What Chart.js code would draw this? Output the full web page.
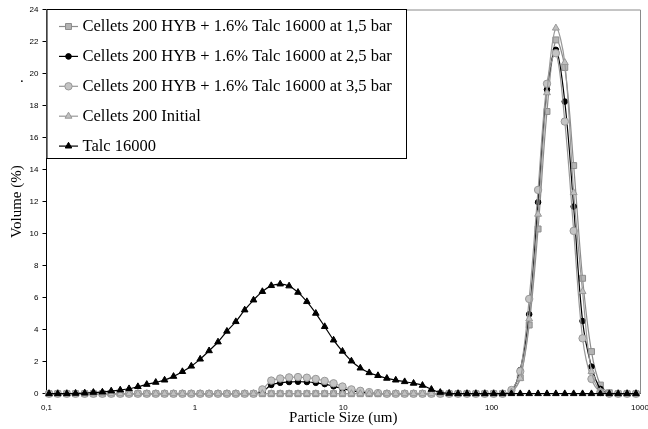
<!DOCTYPE html>
<html>
<head>
<meta charset="utf-8">
<script src="https://cdn.jsdelivr.net/npm/chart.js@4.4.0/dist/chart.umd.min.js"></script>
<style>
  html, body { margin: 0; padding: 0; background: #fff; }
  #wrap { width: 648px; height: 429px; position: relative; }
</style>
</head>
<body>
<div id="wrap"><canvas id="psd"></canvas></div>
<script>
// Particle size classes (um)
const sizes = [0.104, 0.119, 0.137, 0.157, 0.181, 0.207, 0.238, 0.273, 0.314, 0.360,
  0.413, 0.474, 0.545, 0.625, 0.718, 0.824, 0.946, 1.086, 1.247, 1.432,
  1.644, 1.888, 2.167, 2.485, 2.851, 3.273, 3.758, 4.315, 4.954, 5.687,
  6.530, 7.497, 8.607, 9.88, 11.35, 13.03, 14.96, 17.14, 19.68, 22.59,
  25.94, 29.78, 34.19, 39.26, 45.07, 51.74, 59.40, 68.2, 78.3, 89.9,
  103.2, 118.5, 136.0, 156.0, 179.1, 205.6, 236.1, 271.0, 311.2, 357.3,
  410.2, 470.9, 540.8, 620.9, 712.8, 818.4, 939.7];

const xTicks = [0.1, 1, 10, 100, 1000];

// Volume (%) per size class
const hyb15 = [0, 0, 0, 0, 0, 0, 0, 0, 0, 0,
  0, 0, 0, 0, 0, 0, 0, 0, 0, 0,
  0, 0, 0, 0, 0, 0, 0, 0, 0, 0,
  0, 0, 0, 0, 0, 0, 0, 0, 0, 0,
  0, 0, 0, 0, 0, 0, 0, 0, 0, 0,
  0, 0, 0.1, 1.0, 4.29, 10.29, 17.63, 22.1, 20.38, 14.25,
  7.21, 2.63, 0.54, 0.06, 0, 0, 0];

const hyb25 = [0, 0, 0, 0, 0, 0, 0, 0, 0, 0,
  0, 0, 0, 0, 0, 0, 0, 0, 0, 0,
  0, 0, 0, 0, 0.12, 0.55, 0.68, 0.73, 0.75, 0.73,
  0.68, 0.6, 0.46, 0.32, 0.2, 0.1, 0.04, 0, 0, 0,
  0, 0, 0, 0, 0, 0, 0, 0, 0, 0,
  0, 0, 0.15, 1.48, 4.96, 11.96, 19.0, 21.48, 18.25, 11.69,
  4.54, 1.69, 0.3, 0, 0, 0, 0];

const hyb35 = [0, 0, 0, 0, 0, 0, 0, 0, 0, 0,
  0, 0, 0, 0, 0, 0, 0, 0, 0, 0,
  0, 0, 0, 0, 0.27, 0.82, 0.95, 1.02, 1.04, 1.0,
  0.92, 0.8, 0.65, 0.45, 0.27, 0.18, 0.1, 0.04, 0, 0,
  0, 0, 0, 0, 0, 0, 0, 0, 0, 0,
  0, 0, 0.23, 1.4, 5.92, 12.73, 19.36, 21.27, 17.0, 10.17,
  3.46, 0.92, 0.1, 0, 0, 0, 0];

const initial = [0, 0, 0, 0, 0, 0, 0, 0, 0, 0,
  0, 0, 0, 0, 0, 0, 0, 0, 0, 0,
  0, 0, 0, 0, 0, 0, 0, 0, 0, 0,
  0, 0, 0, 0, 0, 0, 0, 0, 0, 0,
  0, 0, 0, 0, 0, 0, 0, 0, 0, 0,
  0, 0, 0.1, 0.96, 4.67, 11.21, 18.8, 22.84, 20.69, 12.56,
  6.38, 1.38, 0.15, 0, 0, 0, 0];

const talc = [0, 0, 0, 0.02, 0.04, 0.08, 0.1, 0.17, 0.23, 0.31,
  0.44, 0.58, 0.71, 0.85, 1.08, 1.38, 1.72, 2.16, 2.68, 3.23,
  3.9, 4.5, 5.23, 5.85, 6.38, 6.75, 6.85, 6.73, 6.33, 5.75,
  5.02, 4.19, 3.35, 2.65, 2.04, 1.6, 1.31, 1.13, 0.96, 0.85,
  0.75, 0.65, 0.52, 0.27, 0.08, 0.02, 0, 0, 0, 0,
  0, 0, 0, 0, 0, 0, 0, 0, 0, 0,
  0, 0, 0, 0, 0, 0, 0];

const seriesNames = [
  'Cellets 200 HYB + 1.6% Talc 16000 at 1,5 bar',
  'Cellets 200 HYB + 1.6% Talc 16000 at 2,5 bar',
  'Cellets 200 HYB + 1.6% Talc 16000 at 3,5 bar',
  'Cellets 200 Initial',
  'Talc 16000'
];

function toPoints(vals) {
  return vals.map((v, i) => ({ x: sizes[i], y: v }));
}

function makeSet(name, vals, style, line, fill, edge, radius, order) {
  return {
    label: name,
    data: toPoints(vals),
    borderColor: line,
    borderWidth: 1.2,
    backgroundColor: fill,
    pointStyle: style,
    pointRadius: radius,
    pointBackgroundColor: fill,
    pointBorderColor: edge,
    pointBorderWidth: 1,
    tension: 0.35,
    clip: false,
    order: order
  };
}

const datasets = [
  makeSet(seriesNames[0], hyb15, 'rect', '#8c8c8c', '#b4b4b4', '#8c8c8c', 4.2, 4),
  makeSet(seriesNames[1], hyb25, 'circle', '#000000', '#000000', '#000000', 2.8, 3),
  makeSet(seriesNames[2], hyb35, 'circle', '#989898', '#c4c4c4', '#989898', 3.7, 2),
  makeSet(seriesNames[3], initial, 'triangle', '#999999', '#c0c0c0', '#999999', 4, 1),
  makeSet(seriesNames[4], talc, 'triangle', '#000000', '#000000', '#000000', 3.8, 0)
];

// legend in the top-left corner of the plot, plus the grey frame on top/right
const boxLegend = {
  id: 'boxLegend',
  afterDraw(chart) {
    const ctx = chart.ctx;
    const area = chart.chartArea;
    ctx.save();

    ctx.strokeStyle = '#8a8a8a';
    ctx.lineWidth = 1;
    ctx.beginPath();
    ctx.moveTo(area.left, area.top + 0.5);
    ctx.lineTo(area.right + 0.5, area.top + 0.5);
    ctx.lineTo(area.right + 0.5, area.bottom);
    ctx.stroke();

    const bx = area.left, by = area.top - 0.5, bw = 359.5, bh = 149;
    ctx.fillStyle = '#ffffff';
    ctx.fillRect(bx, by, bw, bh);
    ctx.strokeStyle = '#000000';
    ctx.strokeRect(bx + 0.5, by + 0.5, bw, bh);

    ctx.font = '16.5px "Liberation Serif", "Times New Roman", serif';
    ctx.textBaseline = 'middle';
    ctx.textAlign = 'left';
    chart.data.datasets.forEach((ds, i) => {
      const y = 26.5 + i * 29.9;
      ctx.strokeStyle = ds.borderColor;
      ctx.lineWidth = 1.2;
      ctx.beginPath();
      ctx.moveTo(59, y);
      ctx.lineTo(78, y);
      ctx.stroke();
      ctx.fillStyle = ds.pointBackgroundColor;
      ctx.strokeStyle = ds.pointBorderColor;
      ctx.lineWidth = 1;
      Chart.helpers.drawPoint(ctx, {
        pointStyle: ds.pointStyle,
        radius: ds.pointRadius,
        rotation: 0,
        borderWidth: 1
      }, 68.5, y);
      ctx.fillStyle = '#000000';
      ctx.fillText(ds.label, 82.5, y + 0.5);
    });

    ctx.font = '15px "Liberation Serif", serif';
    ctx.fillText('.', 20, 78);
    ctx.restore();
  }
};

new Chart(document.getElementById('psd'), {
  type: 'line',
  data: { datasets: datasets },
  options: {
    responsive: true,
    maintainAspectRatio: false,
    animation: false,
    layout: { padding: { left: 0, top: 9.5, right: 8, bottom: 0 } },
    plugins: {
      legend: { display: false },
      tooltip: { enabled: false }
    },
    scales: {
      x: {
        type: 'logarithmic',
        min: 0.1,
        max: 1000,
        afterBuildTicks: (scale) => { scale.ticks = xTicks.map(v => ({ value: v })); },
        afterFit: (scale) => {
          scale.paddingLeft = 0;
          scale.paddingRight = 0;
          scale.height = 35.3;
        },
        grid: { display: true, drawOnChartArea: false, drawTicks: false },
        border: { display: true, color: '#000000', width: 1 },
        ticks: {
          autoSkip: false,
          maxRotation: 0,
          padding: 8.8,
          color: '#000000',
          font: { family: 'Liberation Sans', size: 8 },
          callback: (v) => String(v).replace('.', ',')
        },
        title: {
          display: true,
          text: 'Particle Size (um)',
          color: '#000000',
          font: { family: 'Liberation Serif', size: 15 },
          padding: { top: 0, bottom: 2 }
        }
      },
      y: {
        min: 0,
        max: 24,
        afterFit: (scale) => {
          scale.width = 46.5;
          scale.paddingTop = 0;
          scale.paddingBottom = 0;
        },
        grid: { display: true, drawOnChartArea: false, drawTicks: true, tickLength: 4, color: '#000000' },
        border: { display: true, color: '#000000', width: 1 },
        ticks: {
          stepSize: 2,
          padding: 4,
          color: '#000000',
          font: { family: 'Liberation Sans', size: 8 }
        },
        title: {
          display: true,
          text: 'Volume (%)',
          color: '#000000',
          font: { family: 'Liberation Serif', size: 15 },
          padding: { top: 8, bottom: 0 }
        }
      }
    }
  },
  plugins: [boxLegend]
});
</script>
</body>
</html>
